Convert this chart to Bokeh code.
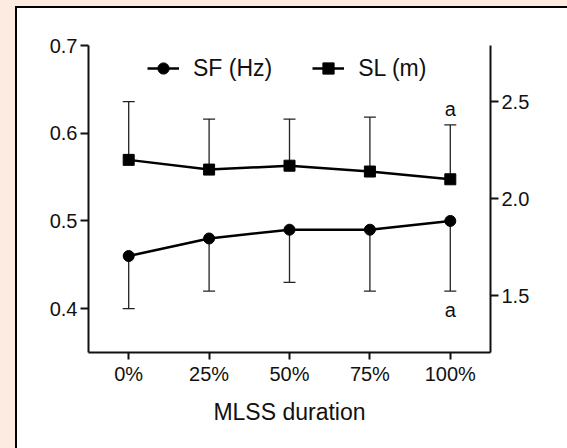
from bokeh.plotting import figure
from bokeh.models import (Range1d, LinearAxis, FixedTicker, PrintfTickFormatter,
                          Whisker, TeeHead, ColumnDataSource, Legend, LegendItem,
                          GlobalInlineStyleSheet)
from bokeh.core.properties import value
from bokeh.embed import file_html
from bokeh.resources import INLINE

# ---- data ----
categories = ["0%", "25%", "50%", "75%", "100%"]
sf_mean = [0.46, 0.48, 0.49, 0.49, 0.50]        # SF (Hz), left axis
sf_lower = [0.40, 0.42, 0.43, 0.42, 0.42]
sl_mean = [2.20, 2.15, 2.17, 2.14, 2.10]        # SL (m), right axis
sl_upper = [2.50, 2.41, 2.41, 2.42, 2.38]
left_ticks = [0.4, 0.5, 0.6, 0.7]
right_ticks = [1.5, 2.0, 2.5]
sig_category = ["100%"]
sig_label = ["a"]

FONT = "Liberation Sans"
INK = "#111111"

page_css = """
body {
  background-color: #FFFFFF;
  background-image: linear-gradient(#FDEBE1, #FDEBE1), linear-gradient(#FDEBE1, #FDEBE1),
                    linear-gradient(#000000, #000000), linear-gradient(#000000, #000000);
  background-size: 15px 100%, 100% 6px, 2px 100%, 100% 2px;
  background-position: 0 0, 0 0, 15px 6px, 15px 6px;
  background-repeat: no-repeat;
  background-attachment: fixed;
}
"""

p = figure(x_range=categories, y_range=Range1d(0.35, 0.70),
           frame_width=402, frame_height=307,
           min_border_left=88, min_border_right=70, min_border_top=45, min_border_bottom=90,
           output_backend="svg", toolbar_location=None,
           x_axis_label="MLSS duration")
p.stylesheets = [GlobalInlineStyleSheet(css=page_css)]
p.extra_y_ranges = {"right": Range1d(1.208, 2.789)}
p.outline_line_color = None
p.xgrid.visible = False
p.ygrid.visible = False
p.background_fill_color = "white"
p.border_fill_alpha = 0

def style_axis(ax):
    ax.axis_line_width = 2
    ax.axis_line_color = INK
    ax.major_tick_line_width = 2
    ax.major_tick_line_color = INK
    ax.major_tick_in = 0
    ax.major_tick_out = 8
    ax.minor_tick_line_color = None
    ax.major_label_text_font = FONT
    ax.major_label_text_font_size = "20px"
    ax.major_label_text_color = INK
    ax.major_label_standoff = 3

# left axis
ya = p.yaxis[0]
style_axis(ya)
ya.ticker = FixedTicker(ticks=left_ticks)
ya.formatter = PrintfTickFormatter(format="%.1f")

# right axis
ra = LinearAxis(y_range_name="right", ticker=FixedTicker(ticks=right_ticks),
                formatter=PrintfTickFormatter(format="%.1f"))
style_axis(ra)
p.add_layout(ra, "right")

# x axis
xa = p.xaxis[0]
style_axis(xa)
xa.major_tick_out = 7
xa.major_label_standoff = 3
xa.axis_label_text_font = FONT
xa.axis_label_text_font_size = "23px"
xa.axis_label_text_font_style = "normal"
xa.axis_label_text_color = INK
xa.axis_label_standoff = 11

# error bars
src_sf = ColumnDataSource(dict(x=categories, mean=sf_mean, lower=sf_lower))
src_sl = ColumnDataSource(dict(x=categories, mean=sl_mean, upper=sl_upper))
p.add_layout(Whisker(base="x", upper="mean", lower="lower", source=src_sf,
                     upper_head=None,
                     lower_head=TeeHead(size=12, line_width=1.3, line_color="#222222"),
                     line_width=1.3, line_color="#222222", level="underlay"))
p.add_layout(Whisker(base="x", upper="upper", lower="mean", source=src_sl,
                     y_range_name="right", lower_head=None,
                     upper_head=TeeHead(size=12, line_width=1.3, line_color="#222222"),
                     line_width=1.3, line_color="#222222", level="underlay"))

# series
l1 = p.line("x", "mean", source=src_sf, line_width=2.5, line_color="black")
s1 = p.scatter("x", "mean", source=src_sf, marker="circle", size=11, color="black")
l2 = p.line("x", "mean", source=src_sl, line_width=2.5, line_color="black", y_range_name="right")
s2 = p.scatter("x", "mean", source=src_sl, marker="square", size=11, color="black", y_range_name="right")

# significance letters
sl_sig = [sl_upper[categories.index(c)] for c in sig_category]
sf_sig = [sf_lower[categories.index(c)] for c in sig_category]
p.text(x=sig_category, y=sl_sig, text=sig_label, y_range_name="right",
       text_font=value(FONT), text_font_size="20px", text_color=INK,
       text_align="center", text_baseline="alphabetic", y_offset=-16)
p.text(x=sig_category, y=sf_sig, text=sig_label,
       text_font=value(FONT), text_font_size="20px", text_color=INK,
       text_align="center", text_baseline="alphabetic", y_offset=19)

legend = Legend(items=[LegendItem(label="SF (Hz)", renderers=[l1, s1]),
                       LegendItem(label="SL (m)", renderers=[l2, s2])],
                orientation="horizontal", location=(59, 270),
                border_line_color=None, background_fill_alpha=0,
                padding=0, margin=0, spacing=40,
                glyph_width=32, glyph_height=28, label_standoff=14,
                label_text_font=FONT, label_text_font_size="23px",
                label_text_color=INK)
p.add_layout(legend)

open("out.html", "w").write(file_html(p, INLINE))
